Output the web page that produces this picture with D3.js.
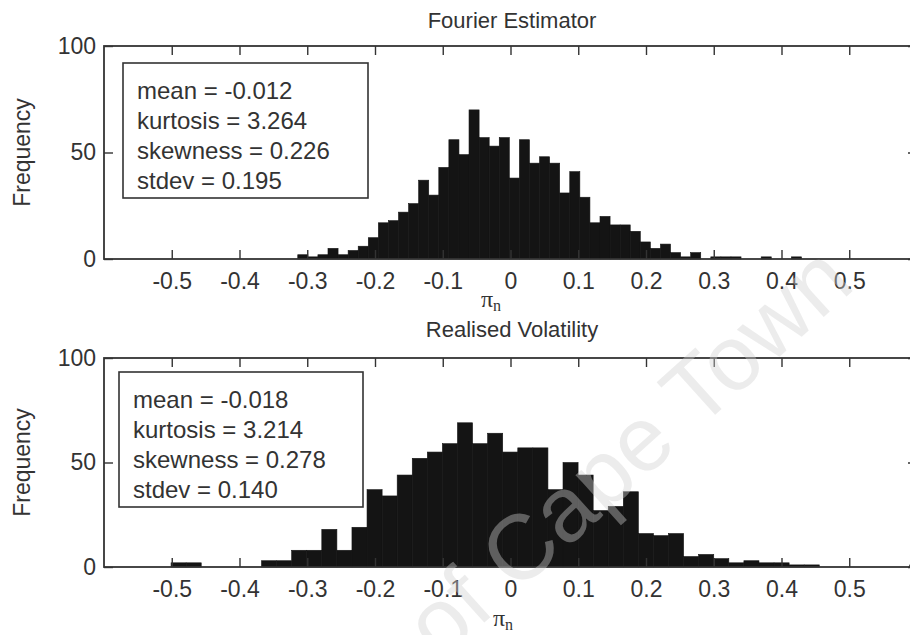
<!DOCTYPE html>
<html>
<head>
<meta charset="utf-8">
<script src="https://cdn.jsdelivr.net/npm/d3@7.9.0/dist/d3.min.js"></script>
<style>
  html, body { margin: 0; padding: 0; background: #fff; }
  svg { display: block; font-family: 'Liberation Sans', Arial, sans-serif; }
</style>
</head>
<body>
<svg id="chart" width="910" height="635"></svg>
<script>
// tick values
const xTicks = [-0.5, -0.4, -0.3, -0.2, -0.1, 0, 0.1, 0.2, 0.3, 0.4, 0.5];
const yTicks = [0, 50, 100];

// Fourier estimator histogram: 50 bins
const fourierStart = -0.314;
const fourierBinWidth = 0.01487;
const fourierCounts = [
  2, 1, 2, 5, 2, 4, 6, 10, 17, 18,
  22, 26, 37, 30, 43, 56, 49, 70, 57, 53,
  57, 38, 56, 45, 48, 45, 31, 41, 29, 17,
  20, 16, 16, 13, 8, 5, 7, 3, 1, 3,
  0, 1, 1, 1, 0, 0, 1, 0, 0, 1
];
const fourierStats = ['mean = -0.012', 'kurtosis = 3.264', 'skewness = 0.226', 'stdev = 0.195'];

// realised volatility histogram: 50 bins
const realisedStart = -0.501;
const realisedBinWidth = 0.02225;
const realisedCounts = [
  2, 2, 0, 0, 0, 0, 3, 3, 8, 8,
  18, 8, 19, 37, 34, 44, 52, 55, 59, 69,
  59, 64, 55, 57, 57, 37, 50, 44, 27, 29,
  36, 16, 15, 16, 5, 6, 4, 2, 3, 2,
  2, 1, 1, 0, 0, 0, 0, 0, 0, 1
];
const realisedStats = ['mean = -0.018', 'kurtosis = 3.214', 'skewness = 0.278', 'stdev = 0.140'];

const titles = ['Fourier Estimator', 'Realised Volatility'];

// layout of the two panels
const panels = [
  { title: titles[0], counts: fourierCounts, start: fourierStart, bw: fourierBinWidth, stats: fourierStats,
    top: 46, bottom: 259, box: [123, 63, 368, 198], titleY: 20, labX: 491, labY: 300 },
  { title: titles[1], counts: realisedCounts, start: realisedStart, bw: realisedBinWidth, stats: realisedStats,
    top: 358, bottom: 567, box: [119, 372, 363, 507], titleY: 329, labX: 503, labY: 619 }
];

const left = 104, right = 917;
const ink = '#333';
const svg = d3.select('#chart');

const x = d3.scaleLinear().domain([-0.6, 0.6]).range([left, right]);
const fmt = (d) => String(+d.toFixed(1));

panels.forEach((p) => {
  const y = d3.scaleLinear().domain([0, 100]).range([p.bottom, p.top]);
  const g = svg.append('g');

  // bars
  const bins = p.counts.map((c, i) => ({ x0: p.start + i * p.bw, x1: p.start + (i + 1) * p.bw, c }));
  g.append('g')
    .selectAll('rect')
    .data(bins.filter((d) => d.c > 0))
    .join('rect')
    .attr('x', (d) => x(d.x0))
    .attr('width', (d) => x(d.x1) - x(d.x0))
    .attr('y', (d) => y(d.c))
    .attr('height', (d) => y(0) - y(d.c))
    .attr('fill', '#141414')
    .attr('stroke', '#141414')
    .attr('stroke-width', 0.6);

  // axes, ticks point inward
  const bottomAxis = g.append('g')
    .attr('transform', `translate(0,${p.bottom})`)
    .call(d3.axisBottom(x).tickValues(xTicks).tickFormat(fmt).tickSize(-9).tickPadding(14));
  const topAxis = g.append('g')
    .attr('transform', `translate(0,${p.top})`)
    .call(d3.axisTop(x).tickValues(xTicks).tickFormat('').tickSize(-9));
  const leftAxis = g.append('g')
    .attr('transform', `translate(${left},0)`)
    .call(d3.axisLeft(y).tickValues(yTicks).tickFormat(d3.format('d')).tickSize(-9).tickPadding(8));
  const rightAxis = g.append('g')
    .attr('transform', `translate(${right},0)`)
    .call(d3.axisRight(y).tickValues(yTicks).tickFormat('').tickSize(-9));

  [bottomAxis, topAxis, leftAxis, rightAxis].forEach((a) => {
    a.select('.domain').remove();
    a.selectAll('.tick line').attr('stroke', ink).attr('stroke-width', 1.4);
    a.selectAll('.tick text')
      .attr('fill', ink)
      .style('font-size', '23px')
      .style('font-family', "'Liberation Sans', Arial, sans-serif");
  });

  // frame
  g.append('rect')
    .attr('x', left).attr('y', p.top)
    .attr('width', right - left).attr('height', p.bottom - p.top)
    .attr('fill', 'none').attr('stroke', ink).attr('stroke-width', 1.8);

  // title
  g.append('text')
    .attr('x', 512).attr('y', p.titleY).attr('dy', '0.35em')
    .attr('text-anchor', 'middle')
    .attr('fill', ink).style('font-size', '22px')
    .text(p.title);

  // y label
  g.append('text')
    .attr('transform', `translate(30,${(p.top + p.bottom) / 2}) rotate(-90)`)
    .attr('text-anchor', 'middle')
    .attr('fill', ink).style('font-size', '23px')
    .text('Frequency');

  // x label  pi_n
  const xl = g.append('text')
    .attr('x', p.labX).attr('y', p.labY).attr('dy', '0.3em')
    .attr('text-anchor', 'middle')
    .attr('fill', ink)
    .style('font-family', "'Liberation Serif', 'DejaVu Serif', serif")
    .style('font-size', '24px');
  xl.append('tspan').text('\u03c0');
  xl.append('tspan').attr('dy', '0.22em').style('font-size', '16px').text('n');

  // stats box
  const [bx0, by0, bx1, by1] = p.box;
  g.append('rect')
    .attr('x', bx0).attr('y', by0)
    .attr('width', bx1 - bx0).attr('height', by1 - by0)
    .attr('fill', '#fff').attr('stroke', ink).attr('stroke-width', 1.6);
  g.append('g')
    .selectAll('text')
    .data(p.stats)
    .join('text')
    .attr('x', bx0 + 14)
    .attr('y', (d, i) => by0 + 28 + i * 30)
    .attr('dy', '0.35em')
    .attr('fill', ink)
    .style('font-size', '24px')
    .text((d) => d);
});

// faint diagonal watermark over everything
svg.append('text')
  .attr('transform', 'translate(857,287) rotate(-42)')
  .attr('text-anchor', 'end')
  .attr('fill', '#cfcfcf')
  .attr('fill-opacity', 0.4)
  .style('font-size', '92px')
  .text('University of Cape Town');
</script>
</body>
</html>
